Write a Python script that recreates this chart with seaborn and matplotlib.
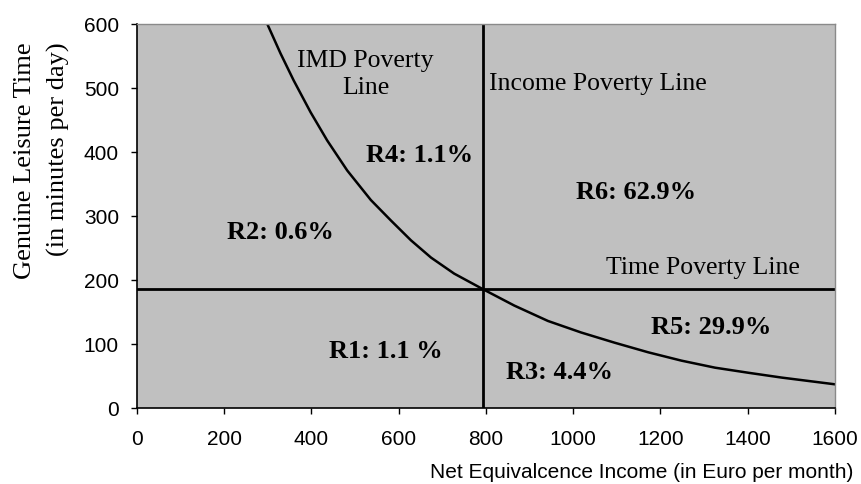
import matplotlib
matplotlib.use("Agg")
import matplotlib.pyplot as plt
import seaborn as sns
import pandas as pd

# IMD poverty line
income = [298, 329, 359, 398, 436, 482, 536, 582, 628, 674, 727, 792,
          865, 942, 1018, 1095, 1172, 1248, 1325, 1402, 1478, 1600]
leisure = [601, 554, 512, 462, 418, 371, 325, 293, 262, 235, 210, 186,
           160, 136, 118, 102, 87, 74, 63, 55, 47.5, 37]

income_poverty_line = 792
time_poverty_line = 186

x_ticks = [0, 200, 400, 600, 800, 1000, 1200, 1400, 1600]
y_ticks = [0, 100, 200, 300, 400, 500, 600]

region_labels = ["R1: 1.1 %", "R2: 0.6%", "R3: 4.4%", "R4: 1.1%", "R5: 29.9%", "R6: 62.9%"]
region_x = [570, 329, 968, 648, 1317, 1143]
region_y = [89, 274, 55, 395, 126, 337]

sns.set_style("white")
plt.rcParams['font.family'] = ['Liberation Sans', 'DejaVu Sans']
plt.rcParams['text.color'] = 'black'
plt.rcParams['xtick.color'] = 'black'
plt.rcParams['ytick.color'] = 'black'

fig = plt.figure(figsize=(8.62, 4.84), dpi=100)
ax = fig.add_axes([137 / 862, 1 - 408 / 484, (835 - 137) / 862, (408 - 24) / 484])
ax.set_facecolor('#c0c0c0')

df = pd.DataFrame({'income': income, 'leisure': leisure})
sns.lineplot(data=df, x='income', y='leisure', ax=ax, color='black', lw=1.8, sort=False)

ax.axhline(time_poverty_line, color='black', lw=2.0)
ax.axvline(income_poverty_line, color='black', lw=2.0)

ax.set_xlim(0, 1600)
ax.set_ylim(0, 600)
ax.set_xticks(x_ticks)
ax.set_yticks(y_ticks)
ax.tick_params(axis='both', direction='out', length=4, width=1, labelsize=15,
               bottom=True, left=True)
ax.tick_params(axis='x', pad=12)
ax.tick_params(axis='y', pad=9)
ax.set_xlabel('')
ax.set_ylabel('')

for side in ['left', 'bottom']:
    ax.spines[side].set_color('black')
    ax.spines[side].set_linewidth(1.2)
for side in ['top', 'right']:
    ax.spines[side].set_color('#8a8a8a')
    ax.spines[side].set_linewidth(1.0)

serif = ['Liberation Serif', 'DejaVu Serif']
for lab, x, y in zip(region_labels, region_x, region_y):
    ax.text(x, y, lab, ha='center', va='center', fontsize=19, fontweight='bold', family=serif)

ax.text(524, 521, 'IMD Poverty\nLine', ha='center', va='center', fontsize=18.5,
        family=serif, linespacing=1.25)
ax.text(807, 507, 'Income Poverty Line', ha='left', va='center', fontsize=18.5, family=serif)
ax.text(1297, 218, 'Time Poverty Line', ha='center', va='center', fontsize=18.5, family=serif)

fig.text(25 / 862, 1 - 42 / 484, 'Genuine Leisure Time', rotation=90, ha='center', va='top',
         fontsize=19, family=serif)
fig.text(58 / 862, 1 - 42 / 484, '(in minutes per day)', rotation=90, ha='center', va='top',
         fontsize=19, family=serif)
fig.text(853 / 862, 1 - 472 / 484, 'Net Equivalcence Income (in Euro per month)',
         ha='right', va='center', fontsize=15)

fig.savefig('out.png', dpi=100, facecolor='white')
